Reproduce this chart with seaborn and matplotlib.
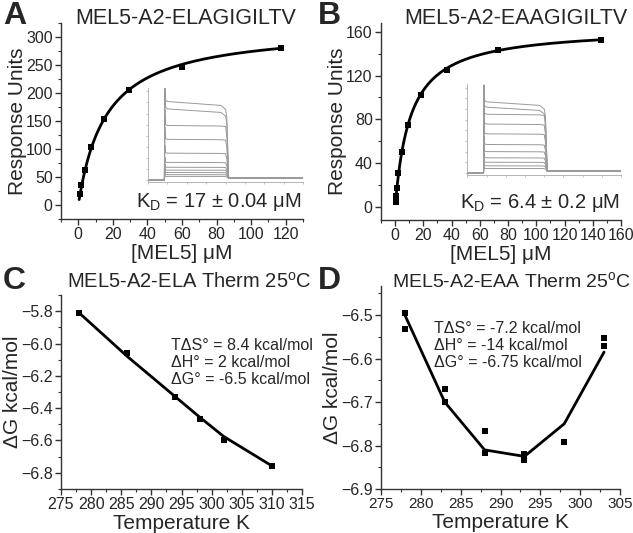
import numpy as np
import pandas as pd
import matplotlib
matplotlib.use("Agg")
import matplotlib.pyplot as plt
from matplotlib.ticker import MultipleLocator
import seaborn as sns

# panel A - SPR equilibrium, MEL5 on A2-ELAGIGILTV
conc_a = [0.9, 1.8, 3.65, 7.3, 14.6, 29.2, 60.0, 117.0]
resp_a = [19, 35, 63, 104, 153, 206, 246, 280]
kd_a, rmax_a = 16.0, 318.0

# panel B - SPR equilibrium, MEL5 on A2-EAAGIGILTV
conc_b = [0.28, 0.57, 1.14, 2.28, 4.56, 9.1, 18.3, 36.5, 73.0, 146.0]
resp_b = [4.5, 9.5, 17.5, 31, 50, 75, 102, 125, 143, 152.6]
kd_b, rmax_b = 10.8, 164.0

# inset sensorgram plateaus (relative units)
levels_a = [0.85, 0.77, 0.59, 0.44, 0.29, 0.19, 0.137, 0.106, 0.08, 0.057, 0.038]
levels_b = [0.80, 0.74, 0.66, 0.55, 0.44, 0.32, 0.24, 0.17, 0.12, 0.08, 0.05]
inset_t = [0, 105, 108, 112, 125, 470, 500, 508, 520, 540, 1000]

# panel C - van't Hoff, ELA
temp_c = [278, 286, 294, 298, 302, 310]
dg_c = [-5.81, -6.06, -6.33, -6.47, -6.60, -6.757]
fit_c = [-5.81, -6.08, -6.33, -6.455, -6.575, -6.757]

# panel D - van't Hoff, EAA (duplicates)
temp_d = [278, 278, 283, 283, 288, 288, 293, 293, 298, 303, 303]
dg_d = [-6.496, -6.531, -6.670, -6.700, -6.767, -6.818, -6.819, -6.833, -6.793, -6.552, -6.570]
fit_temp_d = [278, 283, 288, 293, 298, 303]
fit_d = [-6.50, -6.70, -6.81, -6.825, -6.75, -6.585]

sns.set_style("ticks")
plt.rcParams["font.family"] = ["Liberation Sans", "DejaVu Sans"]
plt.rcParams["xtick.direction"] = "out"
plt.rcParams["ytick.direction"] = "out"

W, H = 633, 533
fig = plt.figure(figsize=(W / 100, H / 100), dpi=100)


def px_axes(l, r, t, b):
    return fig.add_axes([l / W, 1 - b / H, (r - l) / W, (b - t) / H])


def style(ax):
    sns.despine(ax=ax)
    for s in ["left", "bottom"]:
        ax.spines[s].set_linewidth(1.0)
        ax.spines[s].set_color("#333333")
    ax.tick_params(which="major", length=4, width=1, labelsize=11.5, pad=2, color="#333333")
    ax.tick_params(which="minor", length=2, width=0.8, color="#333333")


def inset(ax, rect, levels, spike):
    ia = ax.inset_axes(rect)
    for i, lv in enumerate(levels):
        y = [0, 0, spike if i == 0 else lv * 1.3, lv * 1.02, lv, lv * (0.95 if i < 2 else 0.99),
             lv * (0.9 if i < 2 else 0.98), lv * 0.8, 0.02, 0.02, 0.02]
        sns.lineplot(x=inset_t, y=y, ax=ia, color="#9a9a9a", lw=0.7, sort=False,
                     estimator=None)
    ia.set_xlim(0, 1000)
    ia.set_ylim(-0.02, 1.0)
    ia.patch.set_alpha(0)
    sns.despine(ax=ia)
    for s in ["left", "bottom"]:
        ia.spines[s].set_color("#aaaaaa")
        ia.spines[s].set_linewidth(0.6)
    ia.tick_params(length=1.5, width=0.5, color="#aaaaaa", labelleft=False, labelbottom=False)
    ia.set_xticks(np.arange(0, 1001, 125))
    ia.set_yticks(np.arange(0, 1.01, 0.12))


def labels(ax, xl, yl, title, tx, ty, tsize):
    ax.set_xlabel(xl, fontsize=15, labelpad=1)
    ax.set_ylabel(yl, fontsize=15, labelpad=-1)
    fig.text(tx / W, 1 - ty / H, title, fontsize=tsize, ha="center", va="center")


# A
axA = px_axes(61, 303, 23, 219)
xs = np.linspace(0.5, 118, 300)
sns.lineplot(x=xs, y=rmax_a * xs / (kd_a + xs), ax=axA, color="black", lw=2)
sns.scatterplot(x=conc_a, y=resp_a, ax=axA, color="black", marker="s", s=14, linewidth=0, zorder=5)
axA.set_xlim(-10, 130)
axA.set_ylim(-25, 325)
axA.xaxis.set_major_locator(MultipleLocator(20))
axA.xaxis.set_minor_locator(MultipleLocator(10))
axA.yaxis.set_major_locator(MultipleLocator(50))
axA.yaxis.set_minor_locator(MultipleLocator(25))
style(axA)
labels(axA, "[MEL5] μM", "Response Units", "MEL5-A2-ELAGIGILTV", 186, 18, 15.5)
axA.text(0.995, 0.03, r"K$_\mathregular{D}$ = 17 ± 0.04 μM", transform=axA.transAxes,
         ha="right", va="bottom", fontsize=14.5)
inset(axA, [0.36, 0.19, 0.64, 0.48], levels_a, 0.99)

# B
axB = px_axes(381, 621, 23, 220)
xs = np.linspace(0.2, 147, 300)
sns.lineplot(x=xs, y=rmax_b * xs / (kd_b + xs), ax=axB, color="black", lw=2)
sns.scatterplot(x=conc_b, y=resp_b, ax=axB, color="black", marker="s", s=14, linewidth=0, zorder=5)
axB.set_xlim(-10, 160)
axB.set_ylim(-12, 168)
axB.xaxis.set_major_locator(MultipleLocator(20))
axB.xaxis.set_minor_locator(MultipleLocator(10))
axB.yaxis.set_major_locator(MultipleLocator(40))
axB.yaxis.set_minor_locator(MultipleLocator(20))
style(axB)
labels(axB, "[MEL5] μM", "Response Units", "MEL5-A2-EAAGIGILTV", 516, 18, 15.5)
axB.text(0.995, 0.03, r"K$_\mathregular{D}$ = 6.4 ± 0.2 μM", transform=axB.transAxes,
         ha="right", va="bottom", fontsize=14.5)
inset(axB, [0.36, 0.23, 0.64, 0.46], levels_b, 0.99)

# C
axC = px_axes(61, 302, 295, 489)
sns.lineplot(x=temp_c, y=fit_c, ax=axC, color="black", lw=2)
sns.scatterplot(x=temp_c, y=dg_c, ax=axC, color="black", marker="s", s=14, linewidth=0, zorder=5)
axC.set_xlim(275, 315)
axC.set_ylim(-6.9, -5.7)
axC.xaxis.set_major_locator(MultipleLocator(5))
axC.xaxis.set_minor_locator(MultipleLocator(2.5))
axC.yaxis.set_minor_locator(MultipleLocator(0.1))
axC.set_yticks([-6.8, -6.6, -6.4, -6.2, -6.0, -5.8])
style(axC)
labels(axC, "Temperature K", "ΔG kcal/mol", r"MEL5-A2-ELA Therm 25$^\mathregular{o}$C", 189, 282, 14.5)
axC.text(0.455, 0.78, "TΔS° = 8.4 kcal/mol\nΔH° = 2 kcal/mol\nΔG° = -6.5 kcal/mol",
         transform=axC.transAxes, ha="left", va="top", fontsize=11.5, linespacing=1.2)

# D
axD = px_axes(381, 620, 286, 489)
sns.lineplot(x=fit_temp_d, y=fit_d, ax=axD, color="black", lw=2)
sns.scatterplot(x=temp_d, y=dg_d, ax=axD, color="black", marker="s", s=14, linewidth=0, zorder=5)
axD.set_xlim(275, 305)
axD.set_ylim(-6.9, -6.433)
axD.xaxis.set_major_locator(MultipleLocator(5))
axD.xaxis.set_minor_locator(MultipleLocator(2.5))
axD.yaxis.set_major_locator(MultipleLocator(0.1))
axD.yaxis.set_minor_locator(MultipleLocator(0.05))
style(axD)
axD.tick_params(axis="x", labelsize=11)
labels(axD, "Temperature K", "ΔG kcal/mol", r"MEL5-A2-EAA Therm 25$^\mathregular{o}$C", 512, 282, 14)
axD.text(0.22, 0.83, "TΔS° = -7.2 kcal/mol\nΔH° = -14 kcal/mol\nΔG° = -6.75 kcal/mol",
         transform=axD.transAxes, ha="left", va="top", fontsize=11.5, linespacing=1.2)

for lab, x, y in [("A", 3, 1), ("B", 318, 1), ("C", 3, 266), ("D", 318, 266)]:
    fig.text(x / W, 1 - y / H, lab, fontsize=23, fontweight="bold", ha="left", va="top")

fig.savefig("out.png", dpi=100)
